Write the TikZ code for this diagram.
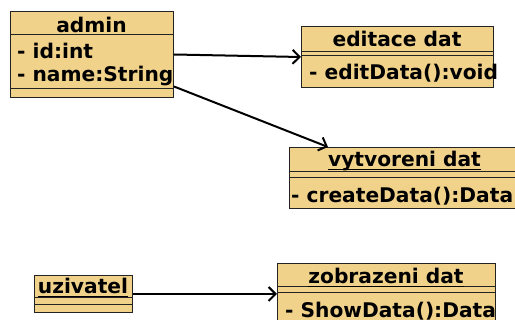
\documentclass[tikz,border=0pt]{standalone}
\usepackage{fontspec}
\setmainfont{DejaVu Sans}
\usetikzlibrary{arrows.meta}
\definecolor{umlfill}{RGB}{240,210,138}
\definecolor{umlline}{RGB}{35,35,35}
\begin{document}
\begin{tikzpicture}[x=1pt,y=-1pt,
  box/.style={draw=umlline, fill=umlfill, line width=1pt, inner sep=0pt, anchor=north west},
  sepline/.style={draw=umlline, line width=1pt},
  lbl/.style={font=\fontsize{20.2}{23}\selectfont\bfseries, inner sep=0pt, anchor=base west},
  ttl/.style={font=\fontsize{20.2}{23}\selectfont\bfseries, inner sep=0pt, anchor=base},
  ulline/.style={line width=1.4pt},
  conn/.style={line width=2pt, -{Straight Barb[length=7pt,width=14pt,line width=2pt]}}]
\useasboundingbox (0,0) rectangle (515,320);
\clip (0,0) rectangle (515,320);
% admin
\node[box, minimum width=163pt, minimum height=86pt] (admin) at (10,11) {};
\draw[sepline] (10,35) -- (173,35);
\draw[sepline] (10,89) -- (173,89);
\node[ttl] (admint) at (91.5,33) {admin};
\node[lbl] (adminid) at (17,59) {- id:int};
\node[lbl] (adminname) at (17,82) {- name:String};
% editace dat
\node[box, minimum width=192pt, minimum height=61pt] (editace) at (301,26) {};
\draw[sepline] (301,52) -- (493,52);
\draw[sepline] (301,56) -- (493,56);
\node[ttl] (editacet) at (397,47) {editace dat};
\node[lbl] (editm) at (309,80) {- editData():void};
% vytvoreni dat
\node[box, minimum width=231pt, minimum height=61pt] (vytvoreni) at (289,147) {};
\draw[sepline] (289,172) -- (520,172);
\draw[sepline] (289,178) -- (520,178);
\node[ttl] (vytvorenit) at (404.5,167) {vytvoreni dat};
\draw[ulline] ([yshift=-2.5pt]vytvorenit.base west) -- ([yshift=-2.5pt]vytvorenit.base east);
\node[lbl] (createm) at (291,203) {- createData():Data};
% uzivatel
\node[box, minimum width=98pt, minimum height=37pt] (uzivatel) at (34,275) {};
\draw[sepline] (34,298) -- (132,298);
\draw[sepline] (34,305) -- (132,305);
\node[ttl] (uzivatelt) at (83,294) {uzivatel};
\draw[ulline] ([yshift=-2.5pt]uzivatelt.base west) -- ([yshift=-2.5pt]uzivatelt.base east);
% zobrazeni dat
\node[box, minimum width=218pt, minimum height=70pt] (zobrazeni) at (277,263) {};
\draw[sepline] (277,287) -- (495,287);
\draw[sepline] (277,293) -- (495,293);
\node[ttl] (zobrazenit) at (386,284) {zobrazeni dat};
\draw[ulline] ([yshift=-2.5pt]zobrazenit.base west) -- ([yshift=-2.5pt]zobrazenit.base east);
\node[lbl] (showm) at (285,318) {- ShowData():Data};
% connectors
\draw[conn] (admin.east) -- (editace.west);
\draw[conn] ([yshift=-32pt]admin.east) -- ([xshift=39pt]vytvoreni.north west);
\draw[conn] (uzivatel.east) -- (uzivatel.east -| zobrazeni.west);
\end{tikzpicture}
\end{document}
